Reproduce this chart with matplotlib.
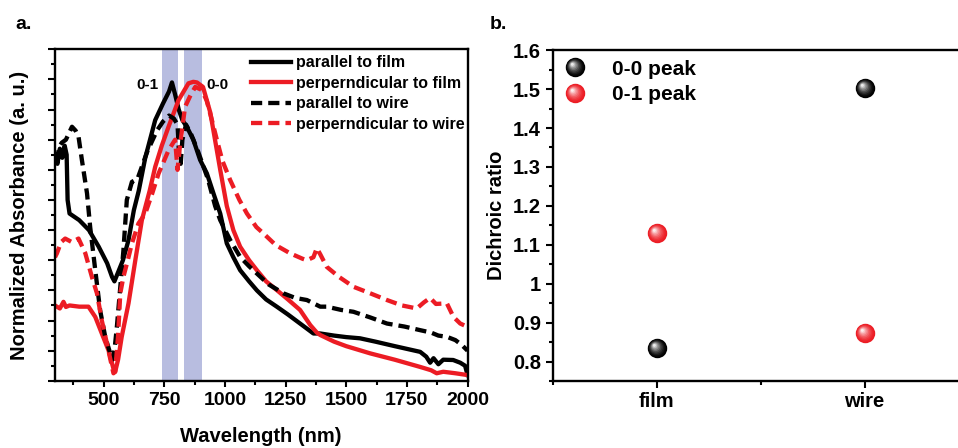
import numpy as np
import matplotlib
matplotlib.use("Agg")
import matplotlib.pyplot as plt
from matplotlib.markers import MarkerStyle
from matplotlib.transforms import Affine2D
from matplotlib.legend_handler import HandlerTuple
from matplotlib.ticker import MultipleLocator
from matplotlib.colors import to_rgb

plt.rcParams['font.family'] = ['Liberation Sans', 'DejaVu Sans']
plt.rcParams['font.weight'] = 'bold'
plt.rcParams['axes.labelweight'] = 'bold'

RED = '#ec1c24'

# ---- panel a data ----
film_par_nm = [300, 310, 320, 330, 340, 348, 352, 360, 400, 440, 480, 515, 535, 545, 560, 580, 603, 625,
               645, 672, 713, 745, 770, 782, 795, 810, 825, 845, 870, 898, 926, 953, 981, 1008, 1035, 1063,
               1100, 1132, 1170, 1214, 1260, 1310, 1365, 1393, 1450, 1500, 1557, 1620, 1700, 1805, 1830,
               1846, 1860, 1880, 1900, 1941, 1970, 1990, 2000]
film_par_a = [0.75, 0.72, 0.77, 0.74, 0.78, 0.75, 0.60, 0.555, 0.533, 0.50, 0.445, 0.39, 0.345, 0.33, 0.36,
              0.40, 0.467, 0.566, 0.63, 0.74, 0.865, 0.92, 0.96, 0.99, 0.95, 0.90, 0.865, 0.84, 0.80, 0.733,
              0.688, 0.622, 0.555, 0.456, 0.41, 0.367, 0.33, 0.30, 0.27, 0.246, 0.22, 0.19, 0.157, 0.157,
              0.15, 0.145, 0.141, 0.13, 0.115, 0.096, 0.08, 0.06, 0.075, 0.055, 0.07, 0.069, 0.06, 0.05, 0.02]

film_perp_nm = [300, 320, 335, 345, 360, 400, 438, 466, 493, 521, 541, 548, 560, 575, 603, 631, 658, 690,
                713, 740, 768, 809, 850, 870, 885, 910, 940, 953, 981, 1008, 1035, 1063, 1100, 1132, 1170,
                1214, 1260, 1310, 1352, 1379, 1393, 1450, 1500, 1599, 1700, 1805, 1850, 1873, 1900, 1950, 2000]
film_perp_a = [0.25, 0.24, 0.262, 0.245, 0.25, 0.246, 0.246, 0.212, 0.157, 0.10, 0.04, 0.03, 0.07, 0.146,
               0.257, 0.40, 0.533, 0.63, 0.71, 0.78, 0.843, 0.931, 0.987, 0.992, 0.99, 0.975, 0.89, 0.83,
               0.70, 0.58, 0.50, 0.445, 0.40, 0.367, 0.33, 0.301, 0.27, 0.235, 0.185, 0.16, 0.152, 0.13,
               0.115, 0.091, 0.07, 0.046, 0.035, 0.025, 0.03, 0.025, 0.019]

wire_par_nm = [300, 308, 320, 328, 345, 370, 385, 397, 411, 432, 445, 466, 486, 507, 528, 535, 545, 555,
               569, 582, 596, 617, 640, 680, 720, 745, 770, 790, 805, 812, 818, 825, 840, 860, 890, 930,
               960, 981, 1022, 1063, 1100, 1132, 1180, 1242, 1290, 1338, 1393, 1420, 1480, 1530, 1600,
               1668, 1740, 1805, 1850, 1880, 1915, 1950, 1975, 2000]
wire_par_a = [0.75, 0.74, 0.78, 0.79, 0.80, 0.843, 0.83, 0.81, 0.732, 0.622, 0.51, 0.367, 0.234, 0.146,
              0.09, 0.069, 0.10, 0.179, 0.31, 0.433, 0.60, 0.66, 0.67, 0.76, 0.83, 0.86, 0.88, 0.87, 0.85,
              0.74, 0.72, 0.80, 0.85, 0.82, 0.76, 0.67, 0.58, 0.533, 0.467, 0.411, 0.38, 0.356, 0.32, 0.29,
              0.275, 0.268, 0.246, 0.246, 0.235, 0.229, 0.21, 0.19, 0.18, 0.168, 0.16, 0.15, 0.146, 0.135,
              0.12, 0.10]

wire_perp_nm = [300, 308, 325, 342, 370, 397, 425, 452, 473, 493, 514, 535, 541, 548, 560, 569, 582, 600,
                617, 644, 672, 700, 727, 768, 795, 805, 815, 836, 860, 878, 905, 925, 945, 967, 990, 1022,
                1060, 1091, 1130, 1159, 1210, 1269, 1320, 1338, 1365, 1379, 1393, 1420, 1470, 1530, 1600,
                1668, 1730, 1791, 1820, 1846, 1870, 1915, 1942, 1970, 2000]
wire_perp_a = [0.41, 0.423, 0.46, 0.472, 0.46, 0.472, 0.423, 0.345, 0.29, 0.20, 0.124, 0.046, 0.025, 0.03,
               0.15, 0.29, 0.345, 0.40, 0.456, 0.522, 0.555, 0.62, 0.688, 0.765, 0.80, 0.70, 0.78, 0.909,
               0.95, 0.975, 0.965, 0.93, 0.87, 0.80, 0.73, 0.666, 0.60, 0.555, 0.51, 0.489, 0.45, 0.423,
               0.405, 0.40, 0.41, 0.44, 0.42, 0.378, 0.345, 0.312, 0.29, 0.268, 0.25, 0.24, 0.26, 0.275,
               0.255, 0.257, 0.212, 0.19, 0.179]

bands = [(740, 806), (830, 905)]
band_labels = ['0-1', '0-0']
band_label_pos = [(680, 0.98), (968, 0.98)]

# ---- panel b data ----
samples = ['film', 'wire']
peak00 = [0.836, 1.503]
peak01 = [1.13, 0.873]

fig = plt.figure(figsize=(9.58, 4.48), dpi=100)

# ================= panel a =================
ax = fig.add_axes([0.0574, 0.150, 0.4306, 0.740])
for lo, hi in bands:
    ax.axvspan(lo, hi, color='#b8bde0', lw=0, zorder=0)

lw = 3.1
dash = (2.6, 1.4)
ax.plot(film_par_nm, film_par_a, color='black', lw=lw, label='parallel to film')
ax.plot(film_perp_nm, film_perp_a, color=RED, lw=lw, label='perperndicular to film')
ax.plot(wire_par_nm, wire_par_a, color='black', lw=lw, ls=(0, dash), label='parallel to wire')
ax.plot(wire_perp_nm, wire_perp_a, color=RED, lw=lw, ls=(0, dash), label='perperndicular to wire')

for txt, (x, y) in zip(band_labels, band_label_pos):
    ax.text(x, y, txt, ha='center', va='center', fontsize=11, fontweight='bold')

ax.set_xlim(300, 2000)
ax.set_ylim(0, 1.1)
ax.xaxis.set_major_locator(MultipleLocator(250))
ax.xaxis.set_minor_locator(MultipleLocator(125))
ax.yaxis.set_major_locator(MultipleLocator(0.1))
ax.yaxis.set_minor_locator(MultipleLocator(0.05))
ax.set_xticks([500, 750, 1000, 1250, 1500, 1750, 2000])
ax.set_yticklabels([])
ax.tick_params(axis='x', which='major', length=4, width=1.5, labelsize=14, pad=4)
ax.tick_params(axis='x', which='minor', length=3, width=1.5)
ax.tick_params(axis='y', which='major', length=5, width=1.5)
ax.tick_params(axis='y', which='minor', length=3, width=1.5)
for s in ax.spines.values():
    s.set_linewidth(1.7)
ax.set_xlabel('Wavelength (nm)', fontsize=14.5, labelpad=13)
ax.set_ylabel('Normalized Absorbance (a. u.)', fontsize=14.5, labelpad=10)
ax.legend(loc='upper left', bbox_to_anchor=(0.44, 1.025), frameon=False, fontsize=11.5,
          handlelength=2.5, handletextpad=0.3, labelspacing=0.34, borderpad=0.4)

fig.text(0.016, 0.935, 'a.', fontsize=14, fontweight='bold')
fig.text(0.511, 0.935, 'b.', fontsize=14, fontweight='bold')

# ================= panel b =================
bx = fig.add_axes([0.577, 0.1496, 0.434, 0.7384])
xpos = np.arange(1, len(samples) + 1)


def sphere(axis, x, y, base, n=9, ms=14):
    # stack of shrinking, lighter circles shifted to the upper left -> glossy ball
    handles = []
    b = np.array(to_rgb(base))
    for i in range(n):
        t = i / (n - 1)
        c = b + (1 - b) * (t ** 1.6) * 0.92
        k = 1 - 0.85 * t
        m = MarkerStyle('o', transform=Affine2D().scale(k).translate(-0.16 * t, 0.16 * t))
        h, = axis.plot(x, y, ls='none', marker=m, markersize=ms, color=c, mew=0, zorder=3 + i * 0.01)
        handles.append(h)
    return tuple(handles)


h00 = sphere(bx, xpos, peak00, '#000000')
h01 = sphere(bx, xpos, peak01, RED)

bx.set_xlim(0.5, 2.5)
bx.set_ylim(0.75, 1.6)
bx.set_xticks(xpos)
bx.set_xticklabels(samples)
bx.xaxis.set_minor_locator(MultipleLocator(0.5))
bx.yaxis.set_major_locator(MultipleLocator(0.1))
bx.yaxis.set_minor_locator(MultipleLocator(0.05))
bx.set_yticks([0.8, 0.9, 1.0, 1.1, 1.2, 1.3, 1.4, 1.5, 1.6])
bx.set_yticklabels(['0.8', '0.9', '1', '1.1', '1.2', '1.3', '1.4', '1.5', '1.6'])
bx.tick_params(axis='both', which='major', length=5, width=1.5, labelsize=14.5)
bx.tick_params(axis='both', which='minor', length=3, width=1.5)
bx.tick_params(axis='x', which='major', pad=3)
for s in bx.spines.values():
    s.set_linewidth(1.7)
bx.set_ylabel('Dichroic ratio', fontsize=14.5, labelpad=5)
bx.legend([h00, h01], ['0-0 peak', '0-1 peak'], handler_map={tuple: HandlerTuple(ndivide=1)},
          loc='upper left', frameon=False, fontsize=15, handlelength=1.2, handletextpad=1.2,
          labelspacing=0.3, borderpad=0.15, borderaxespad=0.3)

fig.savefig('out.png', dpi=100)
